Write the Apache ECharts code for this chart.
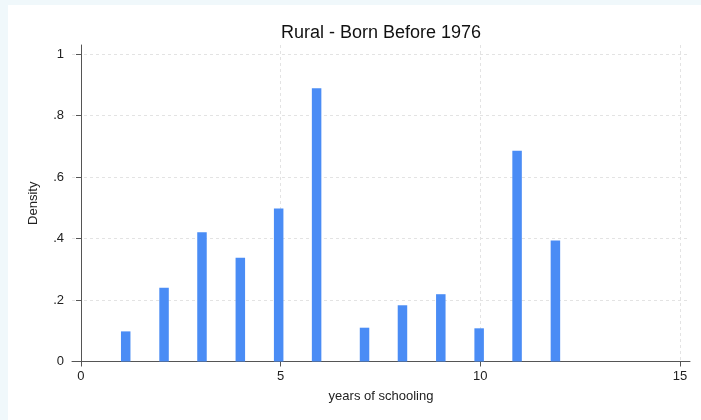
<!DOCTYPE html>
<html>
<head>
<meta charset="utf-8">
<script src="https://cdn.jsdelivr.net/npm/echarts@6/dist/echarts.min.js"></script>
<style>
  html, body { margin: 0; padding: 0; background: #f0f8fb; }
  #chart { position: absolute; left: 8px; top: 5px; width: 693px; height: 415px; background: #ffffff; }
</style>
</head>
<body>
<div id="chart"></div>
<script>
// histogram bins (centres) and their densities
const binCenters = [1.12, 2.08, 3.03, 3.99, 4.95, 5.90, 7.10, 8.05, 9.01, 9.97, 10.92, 11.88];
const density = [0.098, 0.240, 0.421, 0.338, 0.498, 0.889, 0.110, 0.183, 0.219, 0.108, 0.686, 0.394];
const xTicks = [0, 5, 10, 15];
const yTicks = [0, 0.2, 0.4, 0.6, 0.8, 1];
const yTickLabels = ['0', '.2', '.4', '.6', '.8', '1'];

const chart = echarts.init(document.getElementById('chart'), null, { renderer: 'canvas' });

const fontFamily = '"Liberation Sans", Arial, sans-serif';
const gridLine = {
  show: true,
  showMinLine: true,
  showMaxLine: true,
  lineStyle: { color: '#e3e3e3', type: [3, 3], width: 1 }
};

const option = {
  animation: false,
  backgroundColor: '#ffffff',
  graphic: [{
    type: 'text',
    x: 373,
    y: 28,
    style: {
      text: 'Rural - Born Before 1976',
      align: 'center',
      verticalAlign: 'middle',
      font: '18px ' + fontFamily,
      fill: '#111111'
    }
  }],
  grid: { left: 64, right: 11, top: 40, bottom: 58.5 },
  xAxis: {
    type: 'value',
    min: -0.225,
    max: 15.25,
    name: 'years of schooling',
    nameLocation: 'middle',
    nameGap: 28,
    nameTextStyle: { fontSize: 13, color: '#222', fontFamily },
    axisLine: { show: true, onZero: false, lineStyle: { color: '#555', width: 1 } },
    axisTick: { show: true, length: 5, customValues: xTicks, lineStyle: { color: '#555' } },
    axisLabel: { customValues: xTicks, fontSize: 13, color: '#222', fontFamily, margin: 8 },
    splitLine: gridLine
  },
  yAxis: {
    type: 'value',
    min: 0,
    max: 1.03,
    name: 'Density',
    nameLocation: 'middle',
    nameGap: 32,
    nameTextStyle: { fontSize: 13, color: '#222', fontFamily },
    axisLine: { show: true, lineStyle: { color: '#555', width: 1 } },
    axisTick: { show: true, length: 5, customValues: yTicks, lineStyle: { color: '#555' } },
    axisLabel: {
      customValues: yTicks,
      fontSize: 13,
      color: '#222',
      fontFamily,
      margin: 8,
      formatter: v => yTickLabels[yTicks.findIndex(t => Math.abs(t - v) < 1e-6)] ?? ''
    },
    splitLine: gridLine
  },
  series: [{
    type: 'bar',
    barWidth: 9.5,
    itemStyle: { color: '#4a8cf5' },
    data: binCenters.map((x, i) => [x, density[i]])
  }]
};

chart.setOption(option);
</script>
</body>
</html>
